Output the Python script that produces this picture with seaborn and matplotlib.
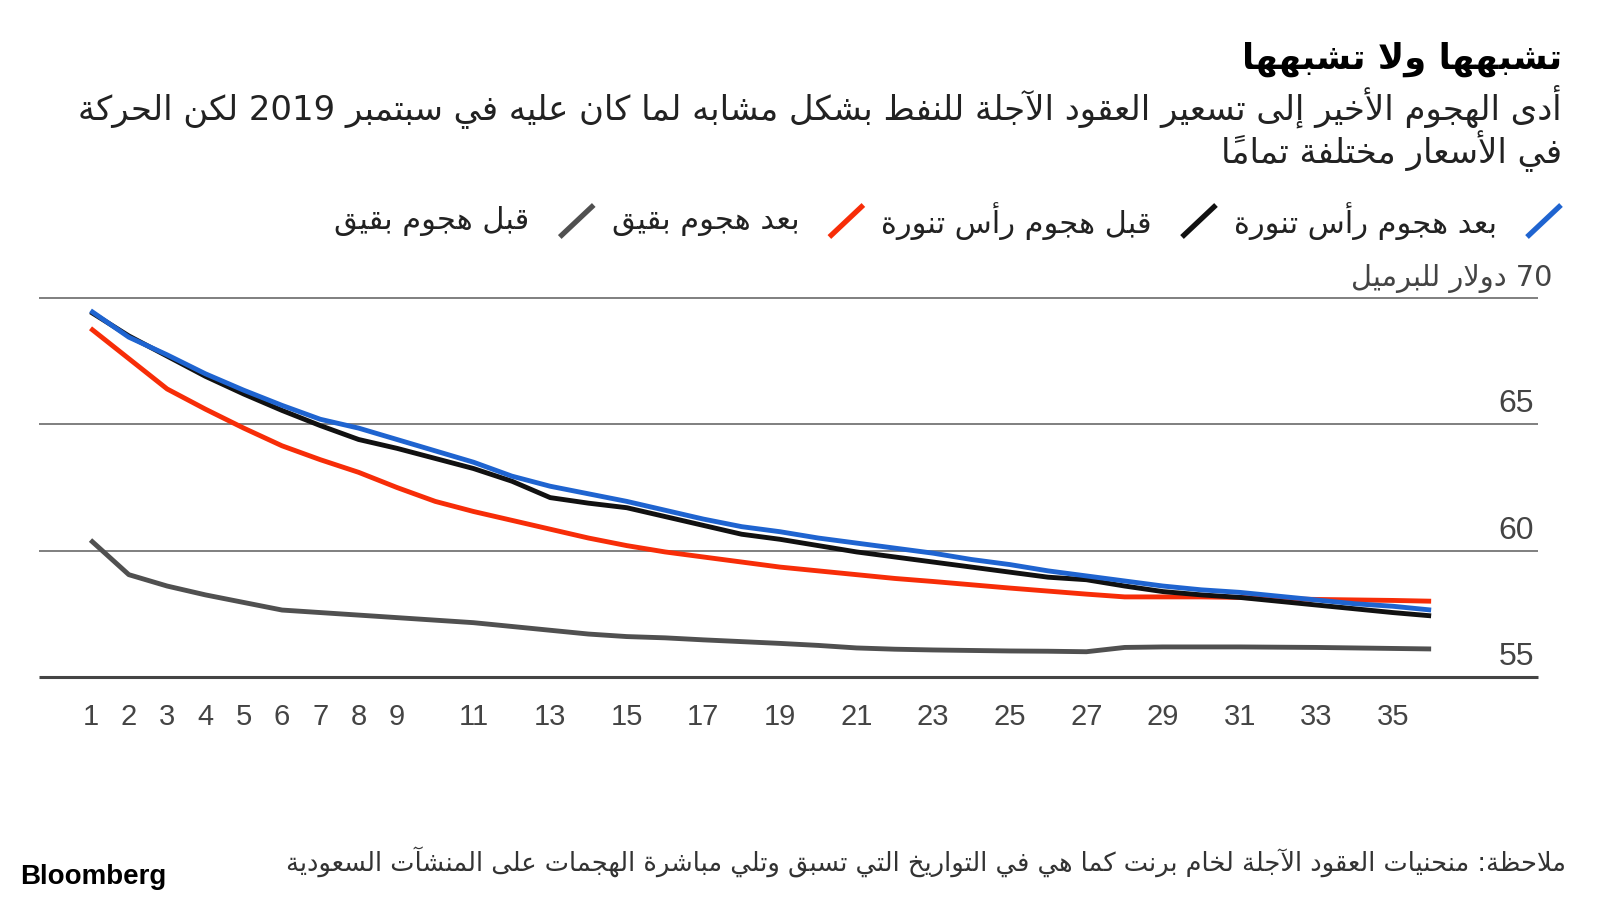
import numpy as np
import pandas as pd
import seaborn as sns
import matplotlib.pyplot as plt
from matplotlib.lines import Line2D

# --- data ---
contracts = list(range(1, 37))

after_ras_tanura = [69.50, 68.45, 67.75, 67.00, 66.35, 65.75, 65.20, 64.85, 64.40, 63.95,
                    63.50, 62.95, 62.55, 62.25, 61.95, 61.60, 61.25, 60.95, 60.75, 60.50,
                    60.30, 60.10, 59.90, 59.65, 59.45, 59.20, 59.00, 58.80, 58.60, 58.45,
                    58.35, 58.20, 58.05, 57.90, 57.80, 57.65]
before_ras_tanura = [69.45, 68.50, 67.70, 66.90, 66.20, 65.55, 64.95, 64.40, 64.05, 63.65,
                     63.25, 62.75, 62.10, 61.88, 61.70, 61.35, 61.00, 60.65, 60.45, 60.20,
                     59.95, 59.75, 59.55, 59.35, 59.15, 58.95, 58.85, 58.60, 58.38, 58.25,
                     58.15, 58.00, 57.85, 57.70, 57.55, 57.42]
after_abqaiq = [68.80, 67.60, 66.40, 65.60, 64.85, 64.15, 63.60, 63.10, 62.50, 61.95,
                61.55, 61.20, 60.85, 60.50, 60.20, 59.95, 59.75, 59.55, 59.35, 59.20,
                59.05, 58.90, 58.78, 58.65, 58.52, 58.40, 58.28, 58.17, 58.17, 58.17,
                58.15, 58.10, 58.07, 58.05, 58.03, 58.00]
before_abqaiq = [60.42, 59.05, 58.60, 58.25, 57.95, 57.65, 57.55, 57.45, 57.35, 57.25,
                 57.15, 57.00, 56.85, 56.70, 56.60, 56.55, 56.47, 56.40, 56.33, 56.25,
                 56.15, 56.10, 56.07, 56.05, 56.03, 56.02, 56.00, 56.17, 56.19, 56.19,
                 56.19, 56.18, 56.17, 56.15, 56.13, 56.11]

series_names = ["بعد هجوم رأس تنورة", "قبل هجوم رأس تنورة", "بعد هجوم بقيق", "قبل هجوم بقيق"]
series_colors = ["#1f64d0", "#111111", "#f72d08", "#505050"]

x_ticks = [1, 2, 3, 4, 5, 6, 7, 8, 9, 11, 13, 15, 17, 19, 21, 23, 25, 27, 29, 31, 33, 35]
y_grid = [55, 60, 65, 70]
y_labels = ["55", "60", "65", "70 دولار للبرميل"]

title = "تشبهها ولا تشبهها"
subtitle = ["أدى الهجوم الأخير إلى تسعير العقود الآجلة للنفط بشكل مشابه لما كان عليه في سبتمبر 2019 لكن الحركة",
            "في الأسعار مختلفة تماماً"]
note = "ملاحظة: منحنيات العقود الآجلة لخام برنت كما هي في التواريخ التي تسبق وتلي مباشرة الهجمات على المنشآت السعودية"


# --- minimal Arabic shaping (matplotlib has no bidi / joining) ---
_n_forms = [1, 2, 2, 2, 2, 4, 2, 4, 2, 4, 4, 4, 4, 4, 2, 2, 2, 2, 4, 4, 4, 4, 4, 4, 4, 4,
            4, 4, 4, 4, 4, 4, 4, 2, 2, 4]
_letters = [chr(c) for c in range(0x621, 0x63B)] + [chr(c) for c in range(0x641, 0x64B)]
FORMS = {}
_pos = 0xFE80
for _ch, _n in zip(_letters, _n_forms):
    FORMS[_ch] = [chr(_pos + k) for k in range(_n)]
    _pos += _n
LAM_ALEF = {"\u0622": 0xFEF5, "\u0623": 0xFEF7, "\u0625": 0xFEF9, "\u0627": 0xFEFB}


def is_mark(ch):
    return "\u064B" <= ch <= "\u065F" or ch == "\u0670"


def shape(text):
    chars = list(text)
    n = len(chars)

    def neighbour(i, step):
        j = i + step
        while 0 <= j < n and is_mark(chars[j]):
            j += step
        return j if 0 <= j < n else None

    def joins_prev(i):
        p = neighbour(i, -1)
        return p is not None and len(FORMS.get(chars[p], [])) == 4

    def joins_next(i):
        q = neighbour(i, 1)
        return (len(FORMS[chars[i]]) == 4 and q is not None
                and len(FORMS.get(chars[q], [])) >= 2)

    clusters = []
    i = 0
    while i < n:
        ch = chars[i]
        if is_mark(ch) and clusters:
            clusters[-1] += ch
            i += 1
            continue
        if ch in FORMS:
            q = neighbour(i, 1)
            if ch == "\u0644" and q is not None and chars[q] in LAM_ALEF:
                clusters.append(chr(LAM_ALEF[chars[q]] + (1 if joins_prev(i) else 0)))
                i = q + 1
                continue
            jp = joins_prev(i) and len(FORMS[ch]) >= 2
            jn = joins_next(i)
            idx = 3 if (jp and jn) else 1 if jp else 2 if jn else 0
            clusters.append(FORMS[ch][idx])
        else:
            clusters.append(ch)
        i += 1

    # visual order: reverse, but keep digit runs left-to-right
    units = []
    for c in clusters:
        if c.isdigit() and units and units[-1][0].isdigit():
            units[-1] += c
        else:
            units.append(c)
    return "".join(reversed(units))


# --- figure ---
sns.set_style("white")
plt.rcParams["font.family"] = ["Liberation Sans", "DejaVu Sans"]
plt.rcParams["lines.solid_capstyle"] = "butt"
AR = ["DejaVu Sans"]

W, H = 1600, 900
fig = plt.figure(figsize=(16, 9), dpi=100)
ax = fig.add_axes([39 / W, 1 - 677 / H, (1538 - 39) / W, (677 - 298) / H])

frames = []
for name, vals in zip(series_names, [after_ras_tanura, before_ras_tanura, after_abqaiq, before_abqaiq]):
    frames.append(pd.DataFrame({"contract": contracts, "price": vals, "series": name}))
df = pd.concat(frames, ignore_index=True)

palette = dict(zip(series_names, series_colors))
sns.lineplot(data=df, x="contract", y="price", hue="series",
             hue_order=series_names[::-1], palette=palette,
             linewidth=3.5, legend=False, ax=ax, zorder=3)

ax.set_xlim(-0.345, 38.79)
ax.set_ylim(55, 70)
for v in y_grid:
    if v == y_grid[0]:
        ax.axhline(v, color="#444444", lw=2.2, zorder=1, clip_on=False)
    else:
        ax.axhline(v, color="#6a6a6a", lw=1.2, zorder=1, clip_on=False)

renderer = fig.canvas.get_renderer()


def fit(t, target):
    w = t.get_window_extent(renderer).width
    t.set_fontsize(t.get_fontsize() * target / w)
    return t


for v, lab in zip(y_grid, y_labels):
    top = v == y_grid[-1]
    a = ax.annotate(shape(lab), xy=(1, v), xycoords=("axes fraction", "data"),
                    xytext=(14 if top else -4, 12), textcoords="offset pixels",
                    ha="right", va="baseline", fontsize=23, color="#444444",
                    family=AR if top else ["Liberation Sans"])
    if top:
        fit(a, 202)

ax.set_xticks(x_ticks)
ax.set_xticklabels([str(t) for t in x_ticks])
ax.set_yticks([])
ax.tick_params(axis="x", length=0, pad=19, labelsize=21, labelcolor="#444444")
ax.set_xlabel("")
ax.set_ylabel("")
for s in ax.spines.values():
    s.set_visible(False)

# title and subtitle
t = fig.text(1562 / W, 1 - 69 / H, shape(title), ha="right", va="baseline",
             fontsize=28, weight="bold", family=AR, color="black")
fit(t, 320)

s1 = fig.text(1562 / W, 1 - 119 / H, shape(subtitle[0]), ha="right", va="baseline",
              fontsize=22, family=AR, color="#222222")
fit(s1, 1490)
fig.text(1562 / W, 1 - 163 / H, shape(subtitle[1]), ha="right", va="baseline",
         fontsize=s1.get_fontsize(), family=AR, color="#222222")

# legend with slash swatches, laid out right to left
cursor = 1561
leg_y = 221
leg_size = None
for name, col in zip(series_names, series_colors):
    fig.add_artist(Line2D([(cursor - 34) / W, cursor / W],
                          [1 - (leg_y + 16) / H, 1 - (leg_y - 16) / H],
                          color=col, lw=3.8, solid_capstyle="butt"))
    cursor -= 34 + 30
    lt = fig.text(cursor / W, 1 - leg_y / H, shape(name), ha="right", va="center",
                  fontsize=19, family=AR, color="#222222")
    if leg_size is None:
        fit(lt, 262)
        leg_size = lt.get_fontsize()
    else:
        lt.set_fontsize(leg_size)
    cursor -= lt.get_window_extent(renderer).width + 18

# footer
nt = fig.text(1566 / W, 1 - 862 / H, shape(note), ha="right", va="center",
              fontsize=15, family=AR, color="#333333")
fit(nt, 1285)
bt = fig.text(20 / W, 1 - 884 / H, "Bloomberg", ha="left", va="baseline",
              fontsize=19, weight="bold", family=["Liberation Sans"], color="black")
fit(bt, 146)

fig.savefig("out.png", dpi=100, facecolor="white")
